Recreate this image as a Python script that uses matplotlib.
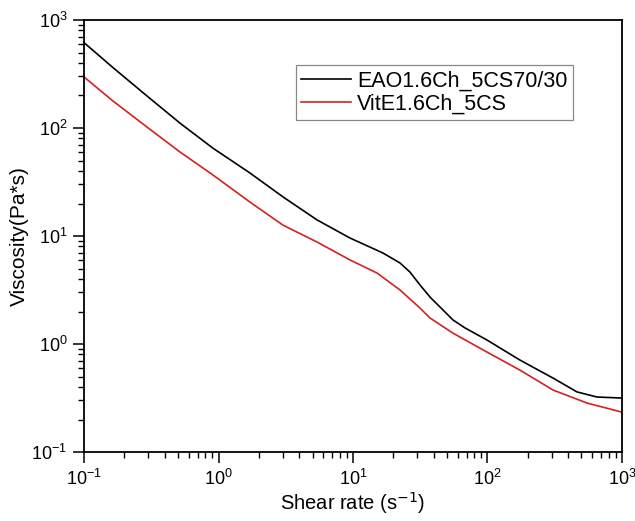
import numpy as np
import matplotlib
matplotlib.use("Agg")
from matplotlib import pyplot as plt

plt.rcParams['font.family'] = ['Liberation Sans', 'DejaVu Sans']

# shear rate (1/s) and viscosity (Pa*s)
rate_eao = [0.1, 0.164, 0.294, 0.517, 0.91, 1.715, 3.02, 5.4, 9.5, 16.7, 22.4, 26.5,
            31.5, 37.4, 55.4, 68, 99, 174, 307, 463, 652, 1000]
visc_eao = [617, 363, 198, 111, 65, 38.3, 23.0, 14.1, 9.58, 6.96, 5.62, 4.64,
            3.52, 2.72, 1.67, 1.41, 1.09, 0.711, 0.484, 0.360, 0.323, 0.316]

rate_vit = [0.1, 0.164, 0.294, 0.517, 0.91, 1.715, 3.02, 5.4, 9.5, 15.1, 22.4,
            31.5, 37.4, 55.4, 99, 174, 307, 550, 1000]
visc_vit = [297, 178, 102, 60, 36.7, 20.6, 12.6, 8.8, 6.0, 4.54, 3.16,
            2.15, 1.74, 1.26, 0.843, 0.574, 0.375, 0.284, 0.234]

fig = plt.figure(figsize=(6.35, 5.21), dpi=100)
ax = fig.add_axes([0.1323, 0.1324, 0.8472, 0.8292])

ax.plot(rate_eao, visc_eao, color='black', lw=1.2, label='EAO1.6Ch_5CS70/30')
ax.plot(rate_vit, visc_vit, color='#d42020', lw=1.2, label='VitE1.6Ch_5CS')

ax.set_xscale('log')
ax.set_yscale('log')
ax.set_xlim(0.1, 1000)
ax.set_ylim(0.1, 1000)

ax.tick_params(which='major', direction='out', length=8, width=1.1, labelsize=13,
               top=False, right=False, pad=4)
ax.tick_params(which='minor', direction='out', length=4, width=1.0,
               top=False, right=False)
for s in ax.spines.values():
    s.set_linewidth(1.3)

ax.set_xlabel('Shear rate (s$^{-1}$)', fontsize=14.5, labelpad=1)
ax.set_ylabel('Viscosity(Pa*s)', fontsize=15, labelpad=2)

leg = ax.legend(loc='upper left', bbox_to_anchor=(0.394, 0.895), borderaxespad=0,
                fontsize=15.5, handlelength=2.3, handletextpad=0.3, fancybox=False,
                edgecolor='#888888', framealpha=1, borderpad=0.25, labelspacing=0.1)
leg.get_frame().set_linewidth(0.9)

fig.savefig('out.png', dpi=100)
